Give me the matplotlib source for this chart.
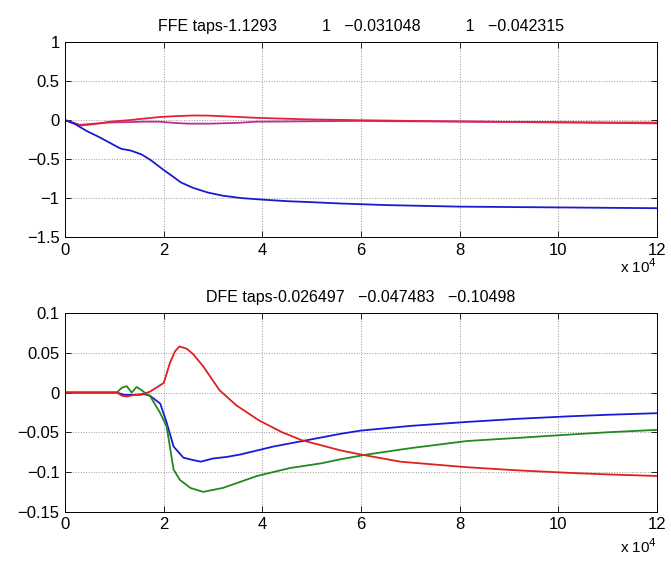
import matplotlib
matplotlib.use("Agg")
import matplotlib.pyplot as plt
import numpy as np
from matplotlib.ticker import FuncFormatter

plt.rcParams['font.family'] = ['Liberation Sans', 'DejaVu Sans']

# x in units of 1e4 samples
# ---- FFE taps (top) ----
ffe_blue_x = [0, 0.2, 0.44, 0.7, 1.08, 1.15, 1.33, 1.55, 1.73, 2.0, 2.2, 2.35, 2.6, 2.9, 3.2, 3.57, 4.0, 4.5, 4.9, 5.6, 6.5, 8.0, 10.0, 12.0]
ffe_blue_y = [0, -0.05, -0.14, -0.22, -0.35, -0.37, -0.39, -0.44, -0.51, -0.64, -0.73, -0.80, -0.87, -0.93, -0.97, -1.0, -1.02, -1.04, -1.05, -1.07, -1.09, -1.11, -1.12, -1.13]

ffe_red_x = [0, 0.15, 0.3, 0.6, 0.91, 1.3, 1.6, 1.92, 2.2, 2.6, 2.9, 3.2, 3.87, 4.9, 5.9, 7.0, 8.5, 10.0, 11.0, 12.0]
ffe_red_y = [0, -0.03, -0.07, -0.05, -0.02, 0.0, 0.02, 0.04, 0.05, 0.06, 0.058, 0.05, 0.03, 0.01, 0.0, -0.01, -0.02, -0.025, -0.03, -0.031]

ffe_mag_x = [0, 0.15, 0.3, 0.6, 0.91, 1.3, 1.6, 1.92, 2.2, 2.5, 2.94, 3.5, 3.87, 4.9, 5.9, 7.0, 8.5, 10.0, 11.0, 12.0]
ffe_mag_y = [0, -0.03, -0.06, -0.045, -0.03, -0.025, -0.02, -0.02, -0.035, -0.045, -0.045, -0.035, -0.02, -0.015, -0.01, -0.015, -0.02, -0.03, -0.035, -0.042]

# ---- DFE taps (bottom) ----
dfe_red_x = [0, 1.05, 1.15, 1.25, 1.4, 1.52, 1.72, 2.0, 2.13, 2.23, 2.32, 2.47, 2.6, 2.8, 3.13, 3.47, 3.93, 4.4, 4.8, 5.6, 6.0, 6.8, 8.15, 9.2, 10.2, 11.0, 12.0]
dfe_red_y = [0, 0, -0.004, -0.005, -0.003, -0.003, 0.001, 0.012, 0.038, 0.052, 0.058, 0.055, 0.048, 0.033, 0.003, -0.016, -0.035, -0.05, -0.06, -0.073, -0.078, -0.087, -0.094, -0.098, -0.101, -0.103, -0.105]

dfe_blue_x = [0, 1.05, 1.2, 1.4, 1.6, 1.72, 1.93, 2.06, 2.2, 2.4, 2.6, 2.75, 3.0, 3.28, 3.55, 4.22, 4.9, 5.58, 5.98, 7.0, 8.15, 9.2, 10.2, 11.0, 12.0]
dfe_blue_y = [0, 0, -0.003, -0.003, -0.002, -0.004, -0.014, -0.038, -0.068, -0.082, -0.085, -0.087, -0.083, -0.081, -0.078, -0.068, -0.06, -0.052, -0.048, -0.042, -0.037, -0.033, -0.03, -0.028, -0.026]

dfe_green_x = [0, 1.05, 1.15, 1.25, 1.35, 1.45, 1.55, 1.65, 1.72, 1.93, 2.06, 2.2, 2.33, 2.54, 2.8, 3.2, 3.89, 4.56, 5.2, 5.58, 6.12, 7.0, 8.15, 9.2, 10.2, 11.0, 12.0]
dfe_green_y = [0, 0, 0.006, 0.008, 0.0, 0.007, 0.003, -0.002, -0.004, -0.026, -0.043, -0.097, -0.11, -0.12, -0.125, -0.12, -0.105, -0.095, -0.089, -0.084, -0.078, -0.07, -0.061, -0.057, -0.053, -0.05, -0.047]

ffe_title = "FFE taps-1.1293          1   \u22120.031048          1   \u22120.042315"
dfe_title = "DFE taps-0.026497   \u22120.047483   \u22120.10498"

xticks = [0, 2, 4, 6, 8, 10, 12]
ffe_yticks = [-1.5, -1, -0.5, 0, 0.5, 1]
dfe_yticks = [-0.15, -0.1, -0.05, 0, 0.05, 0.1]

fig = plt.figure(figsize=(6.71, 5.63), dpi=100)
ax1 = fig.add_axes([0.097, 0.579, 0.882, 0.346])
ax2 = fig.add_axes([0.097, 0.091, 0.882, 0.353])

fmt = FuncFormatter(lambda v, p: ("%g" % v).replace("-", "\u2212"))

def style(ax, yticks, ylim, off):
    ax.set_xlim(0, 12)
    ax.set_ylim(*ylim)
    ax.set_xticks(xticks)
    ax.set_yticks(yticks)
    ax.yaxis.set_major_formatter(fmt)
    ax.xaxis.set_major_formatter(fmt)
    ax.tick_params(direction='in', top=True, right=True, labelsize=12, length=4, width=0.6, pad=4)
    ax.grid(True, linestyle=':', color='#999999', linewidth=0.7)
    for s in ax.spines.values():
        s.set_linewidth(0.7)
    ax.annotate("x 10$^4$", xy=(1.0, 0.0), xycoords='axes fraction',
                xytext=(0, -off), textcoords='offset pixels',
                ha='right', va='center', fontsize=11)

ax1.plot(ffe_mag_x, ffe_mag_y, color='#b8309a', lw=1.3)
ax1.plot(ffe_red_x, ffe_red_y, color='#e8203a', lw=1.3)
ax1.plot(ffe_blue_x, ffe_blue_y, color='#1a1ad0', lw=1.3)
style(ax1, ffe_yticks, (-1.5, 1), 30)
ax1.set_title(ffe_title, fontsize=11.5, pad=8)

ax2.plot(dfe_blue_x, dfe_blue_y, color='#1a1ad8', lw=1.3)
ax2.plot(dfe_green_x, dfe_green_y, color='#228822', lw=1.3)
ax2.plot(dfe_red_x, dfe_red_y, color='#e02020', lw=1.3)
style(ax2, dfe_yticks, (-0.15, 0.1), 35)
ax2.set_title(dfe_title, fontsize=11.5, pad=8)

fig.savefig("out.png", dpi=100)
